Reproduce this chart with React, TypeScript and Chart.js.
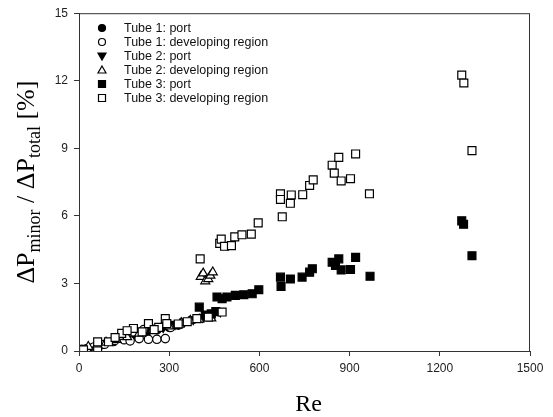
import React, { useEffect, useRef } from 'react';
import { Chart, registerables } from 'chart.js';

Chart.register(...registerables);

const xTickStep = 300;
const xMax = 1500;
const yTickStep = 3;
const yMax = 15;
const xTitle = 'Re';

const seriesNames = [
  'Tube 1: port',
  'Tube 1: developing region',
  'Tube 2: port',
  'Tube 2: developing region',
  'Tube 3: port',
  'Tube 3: developing region',
];

// Tube 1: port (filled circles)
const t1PortRe = [40, 75, 115, 150, 190, 225, 260, 300, 330];
const t1PortVal = [0.12, 0.28, 0.42, 0.55, 0.72, 0.85, 0.95, 1.05, 1.15];

// Tube 1: developing region (open circles)
const t1DevRe = [9, 25, 50, 85, 120, 150, 170, 200, 231, 259, 287, 140, 180, 215, 305, 340];
const t1DevVal = [0.07, 0.1, 0.18, 0.3, 0.48, 0.5, 0.45, 0.55, 0.52, 0.52, 0.55, 0.7, 0.85, 0.95, 1.05, 1.2];

// Tube 2: port (filled inverted triangles)
const t2PortRe = [280, 320, 350, 380, 410, 440, 470];
const t2PortVal = [1.05, 1.2, 1.3, 1.4, 1.5, 1.6, 1.75];

// Tube 2: developing region (open triangles)
const t2DevRe = [31, 60, 90, 125, 160, 200, 245, 300, 340, 370, 400, 440, 405, 413, 420, 430, 437, 445];
const t2DevVal = [0.19, 0.28, 0.38, 0.5, 0.62, 0.78, 0.95, 1.1, 1.25, 1.35, 1.4, 1.45, 3.3, 3.45, 3.1, 3.2, 3.35, 3.5];

// Tube 3: port (filled squares)
const t3PortRe = [400, 420, 440, 455, 459, 476, 492, 520, 548, 576, 598, 670, 672, 703, 742, 767, 776, 842, 853, 864, 872, 903, 920, 968, 1273, 1279, 1307];
const t3PortVal = [1.95, 1.6, 1.65, 1.75, 2.4, 2.32, 2.4, 2.47, 2.5, 2.54, 2.72, 3.28, 2.87, 3.2, 3.28, 3.5, 3.65, 3.94, 3.8, 4.09, 3.6, 3.62, 4.16, 3.32, 5.78, 5.63, 4.23];

// Tube 3: developing region (open squares)
const t3DevRe = [15, 62, 62, 98, 142, 181, 210, 231, 265, 287, 292, 330, 360, 392, 430, 476, 120, 160, 250,
  403, 468, 473, 484, 507, 518, 542, 573, 596, 670, 670, 676, 703, 706, 744, 767, 779, 842, 849, 864, 872, 903, 920, 966, 1273, 1280, 1307];
const t3DevVal = [0.05, 0.01, 0.41, 0.41, 0.78, 1.0, 0.85, 1.22, 1.05, 1.44, 1.22, 1.2, 1.3, 1.44, 1.5, 1.73, 0.6, 0.9, 0.95,
  4.09, 4.78, 4.97, 4.65, 4.68, 5.07, 5.16, 5.19, 5.69, 6.98, 6.73, 5.96, 6.56, 6.93, 6.94, 7.35, 7.6, 8.25, 7.9, 8.6, 7.55, 7.65, 8.75, 6.98, 12.25, 11.9, 8.9];

const zip = (xs: number[], ys: number[]) => xs.map((x, i) => ({ x, y: ys[i] }));

type Mk = { shape: 'circle' | 'triDown' | 'triUp' | 'square'; filled: boolean };
const markers: Mk[] = [
  { shape: 'circle', filled: true },
  { shape: 'circle', filled: false },
  { shape: 'triDown', filled: true },
  { shape: 'triUp', filled: false },
  { shape: 'square', filled: true },
  { shape: 'square', filled: false },
];

const serif = '"Liberation Serif", "Times New Roman", serif';
const sans = '"Liberation Sans", Arial, sans-serif';

function drawLegendMarker(ctx: CanvasRenderingContext2D, m: Mk, x: number, y: number) {
  ctx.beginPath();
  if (m.shape === 'circle') ctx.arc(x, y, 3.5, 0, Math.PI * 2);
  else if (m.shape === 'triDown') { ctx.moveTo(x - 4, y - 3); ctx.lineTo(x + 4, y - 3); ctx.lineTo(x, y + 4); ctx.closePath(); }
  else if (m.shape === 'triUp') { ctx.moveTo(x, y - 4); ctx.lineTo(x + 4, y + 3); ctx.lineTo(x - 4, y + 3); ctx.closePath(); }
  else ctx.rect(x - 3.5, y - 3.5, 7, 7);
  ctx.fillStyle = m.filled ? '#000' : '#fff';
  ctx.fill();
  ctx.lineWidth = 1.2;
  ctx.strokeStyle = '#000';
  ctx.stroke();
}

const decorPlugin = {
  id: 'decor',
  afterDraw(chart: any) {
    const ctx: CanvasRenderingContext2D = chart.ctx;
    const a = chart.chartArea;
    ctx.save();
    ctx.strokeStyle = '#333';
    ctx.lineWidth = 1;
    ctx.strokeRect(a.left + 0.5, a.top + 0.5, a.right - a.left - 1, a.bottom - a.top);
    ctx.font = `12.5px ${sans}`;
    ctx.textBaseline = 'middle';
    ctx.textAlign = 'left';
    seriesNames.forEach((name, i) => {
      const y = 28 + i * 14;
      drawLegendMarker(ctx, markers[i], 102, y);
      ctx.fillStyle = '#111';
      ctx.fillText(name, 124, y + 0.5);
    });
    ctx.font = `24px ${serif}`;
    ctx.fillStyle = '#000';
    ctx.textAlign = 'center';
    ctx.textBaseline = 'alphabetic';
    ctx.fillText(xTitle, (a.left + a.right) / 2 + 4, 411);
    const parts = [
      { t: 'ΔP', sub: false },
      { t: 'minor', sub: true },
      { t: ' / ΔP', sub: false },
      { t: 'total', sub: true },
      { t: ' [%]', sub: false },
    ];
    const mainFont = `26px ${serif}`;
    const subFont = `18px ${serif}`;
    let total = 0;
    const widths = parts.map((p) => {
      ctx.font = p.sub ? subFont : mainFont;
      const w = ctx.measureText(p.t).width;
      total += w;
      return w;
    });
    ctx.translate(0, (a.top + a.bottom) / 2);
    ctx.rotate(-Math.PI / 2);
    ctx.textAlign = 'left';
    let cx = -total / 2;
    parts.forEach((p, i) => {
      ctx.font = p.sub ? subFont : mainFont;
      ctx.fillText(p.t, cx, p.sub ? 40 : 34);
      cx += widths[i];
    });
    ctx.restore();
  },
};

export default function App() {
  const ref = useRef<HTMLCanvasElement | null>(null);
  useEffect(() => {
    if (!ref.current) return;
    const all = [
      zip(t1PortRe, t1PortVal),
      zip(t1DevRe, t1DevVal),
      zip(t2PortRe, t2PortVal),
      zip(t2DevRe, t2DevVal),
      zip(t3PortRe, t3PortVal),
      zip(t3DevRe, t3DevVal),
    ];
    const datasets = all.map((data, i) => {
      const m = markers[i];
      const style = m.shape === 'circle' ? 'circle' : m.shape === 'square' ? 'rect' : 'triangle';
      const radius = m.shape === 'circle' ? 4.2 : m.shape === 'square' ? 5.6 : 5.2;
      return {
        label: seriesNames[i],
        data,
        showLine: false,
        pointStyle: style,
        pointRotation: m.shape === 'triDown' ? 180 : 0,
        pointRadius: radius,
        pointHoverRadius: radius,
        pointBackgroundColor: m.filled ? '#000' : '#fff',
        pointBorderColor: '#000',
        pointBorderWidth: 1.2,
        order: 5 - i,
      };
    });
    const chart = new Chart(ref.current, {
      type: 'scatter',
      data: { datasets },
      options: {
        responsive: false,
        animation: false,
        devicePixelRatio: 1,
        layout: { padding: { top: 11, right: 23, left: 0, bottom: 0 } },
        plugins: { legend: { display: false }, tooltip: { enabled: false } },
        scales: {
          x: {
            type: 'linear',
            min: 0,
            max: xMax,
            ticks: { stepSize: xTickStep, color: '#222', font: { family: sans, size: 12 }, padding: 5, maxRotation: 0, callback: (v: any) => String(v) },
            grid: { drawOnChartArea: false, drawTicks: true, tickLength: 5, color: '#333' },
            border: { color: '#333', width: 1 },
            afterFit: (s: any) => { s.height = 66; },
          },
          y: {
            min: 0,
            max: yMax,
            ticks: { stepSize: yTickStep, color: '#222', font: { family: sans, size: 12 }, padding: 6, callback: (v: any) => String(v) },
            grid: { drawOnChartArea: false, drawTicks: true, tickLength: 5, color: '#333' },
            border: { color: '#333', width: 1 },
            afterFit: (s: any) => { s.width = 79; },
          },
        },
      },
      plugins: [decorPlugin],
    } as any);
    return () => chart.destroy();
  }, []);
  return (
    <div style={{ position: 'fixed', left: 0, top: 0, width: 553, height: 417, background: '#fff' }}>
      <canvas ref={ref} width={553} height={417} style={{ width: 553, height: 417, display: 'block' }} />
    </div>
  );
}
